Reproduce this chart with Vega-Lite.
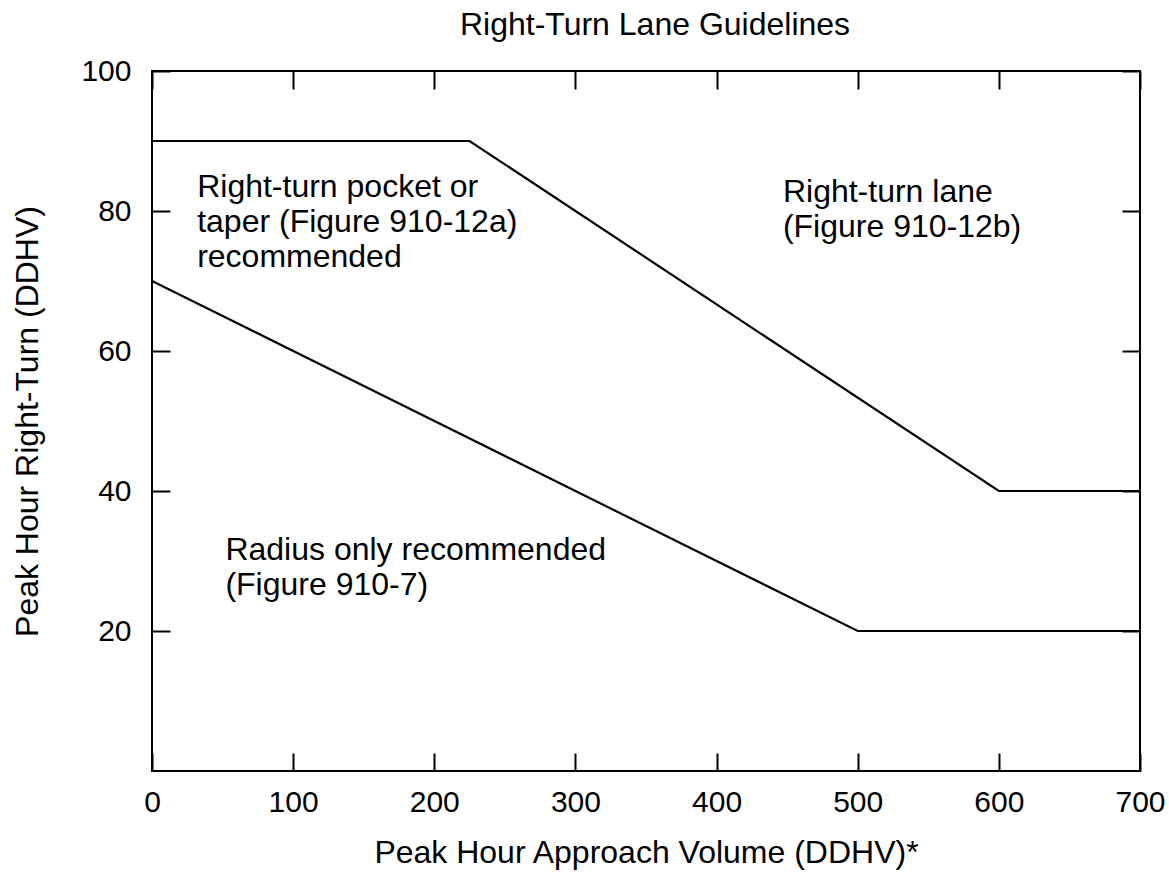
{
  "$schema": "https://vega.github.io/schema/vega-lite/v6.json",
  "autosize": "none",
  "padding": {"left": 152, "top": 71, "right": 29, "bottom": 113},
  "width": 988,
  "height": 700,
  "background": "white",
  "title": {
    "text": "Right-Turn Lane Guidelines",
    "font": "Liberation Sans",
    "fontSize": 32,
    "fontWeight": "normal",
    "color": "black",
    "offset": 14,
    "dx": 9
  },
  "datasets": {
    "lines": [
      {"series": "upper", "order": 1, "volume": 0, "turn": 90},
      {"series": "upper", "order": 2, "volume": 225, "turn": 90},
      {"series": "upper", "order": 3, "volume": 600, "turn": 40},
      {"series": "upper", "order": 4, "volume": 700, "turn": 40},
      {"series": "lower", "order": 1, "volume": 0, "turn": 70},
      {"series": "lower", "order": 2, "volume": 500, "turn": 20},
      {"series": "lower", "order": 3, "volume": 700, "turn": 20}
    ],
    "notes": [
      {"volume": 32, "turn": 82, "label": "Right-turn pocket or\ntaper (Figure 910-12a)\nrecommended"},
      {"volume": 447, "turn": 81.3, "label": "Right-turn lane\n(Figure 910-12b)"},
      {"volume": 52, "turn": 30.1, "label": "Radius only recommended\n(Figure 910-7)"}
    ]
  },
  "layer": [
    {
      "data": {"name": "lines"},
      "mark": {"type": "line", "color": "black", "strokeWidth": 2.2},
      "encoding": {
        "x": {
          "field": "volume", "type": "quantitative",
          "scale": {"domain": [0, 700], "nice": false, "zero": false},
          "axis": {
            "orient": "bottom",
            "title": "Peak Hour Approach Volume (DDHV)*",
            "values": [0, 100, 200, 300, 400, 500, 600, 700],
            "tickSize": -18,
            "labelPadding": 34,
            "titlePadding": 20
          }
        },
        "y": {
          "field": "turn", "type": "quantitative",
          "scale": {"domain": [0, 100], "nice": false, "zero": false},
          "axis": {
            "orient": "left",
            "title": "Peak Hour Right-Turn (DDHV)",
            "values": [20, 40, 60, 80, 100],
            "tickSize": -18,
            "labelPadding": 39,
            "titlePadding": 36
          }
        },
        "detail": {"field": "series", "type": "nominal"},
        "order": {"field": "order", "type": "quantitative"}
      }
    },
    {
      "data": {"name": "lines"},
      "mark": {"type": "point", "opacity": 0},
      "encoding": {
        "x": {
          "field": "volume", "type": "quantitative",
          "axis": {"orient": "top", "title": null, "labels": false, "tickSize": -18, "values": [0, 100, 200, 300, 400, 500, 600, 700]}
        },
        "y": {
          "field": "turn", "type": "quantitative",
          "axis": {"orient": "right", "title": null, "labels": false, "tickSize": -18, "values": [20, 40, 60, 80, 100]}
        }
      }
    },
    {
      "data": {"name": "notes"},
      "mark": {
        "type": "text",
        "align": "left",
        "baseline": "alphabetic",
        "lineBreak": "\n",
        "lineHeight": 35,
        "font": "Liberation Sans",
        "fontSize": 32,
        "color": "black"
      },
      "encoding": {
        "x": {"field": "volume", "type": "quantitative", "axis": null},
        "y": {"field": "turn", "type": "quantitative", "axis": null},
        "text": {"field": "label", "type": "nominal"}
      }
    }
  ],
  "resolve": {"axis": {"x": "independent", "y": "independent"}},
  "config": {
    "view": {"stroke": "black", "strokeWidth": 2},
    "axis": {
      "domain": false,
      "grid": false,
      "ticks": true,
      "tickWidth": 2,
      "tickColor": "black",
      "labelFont": "Liberation Sans",
      "labelFontSize": 30,
      "labelColor": "black",
      "labelFlush": false,
      "labelOverlap": false,
      "titleFont": "Liberation Sans",
      "titleFontSize": 32,
      "titleFontWeight": "normal",
      "titleColor": "black"
    }
  }
}
